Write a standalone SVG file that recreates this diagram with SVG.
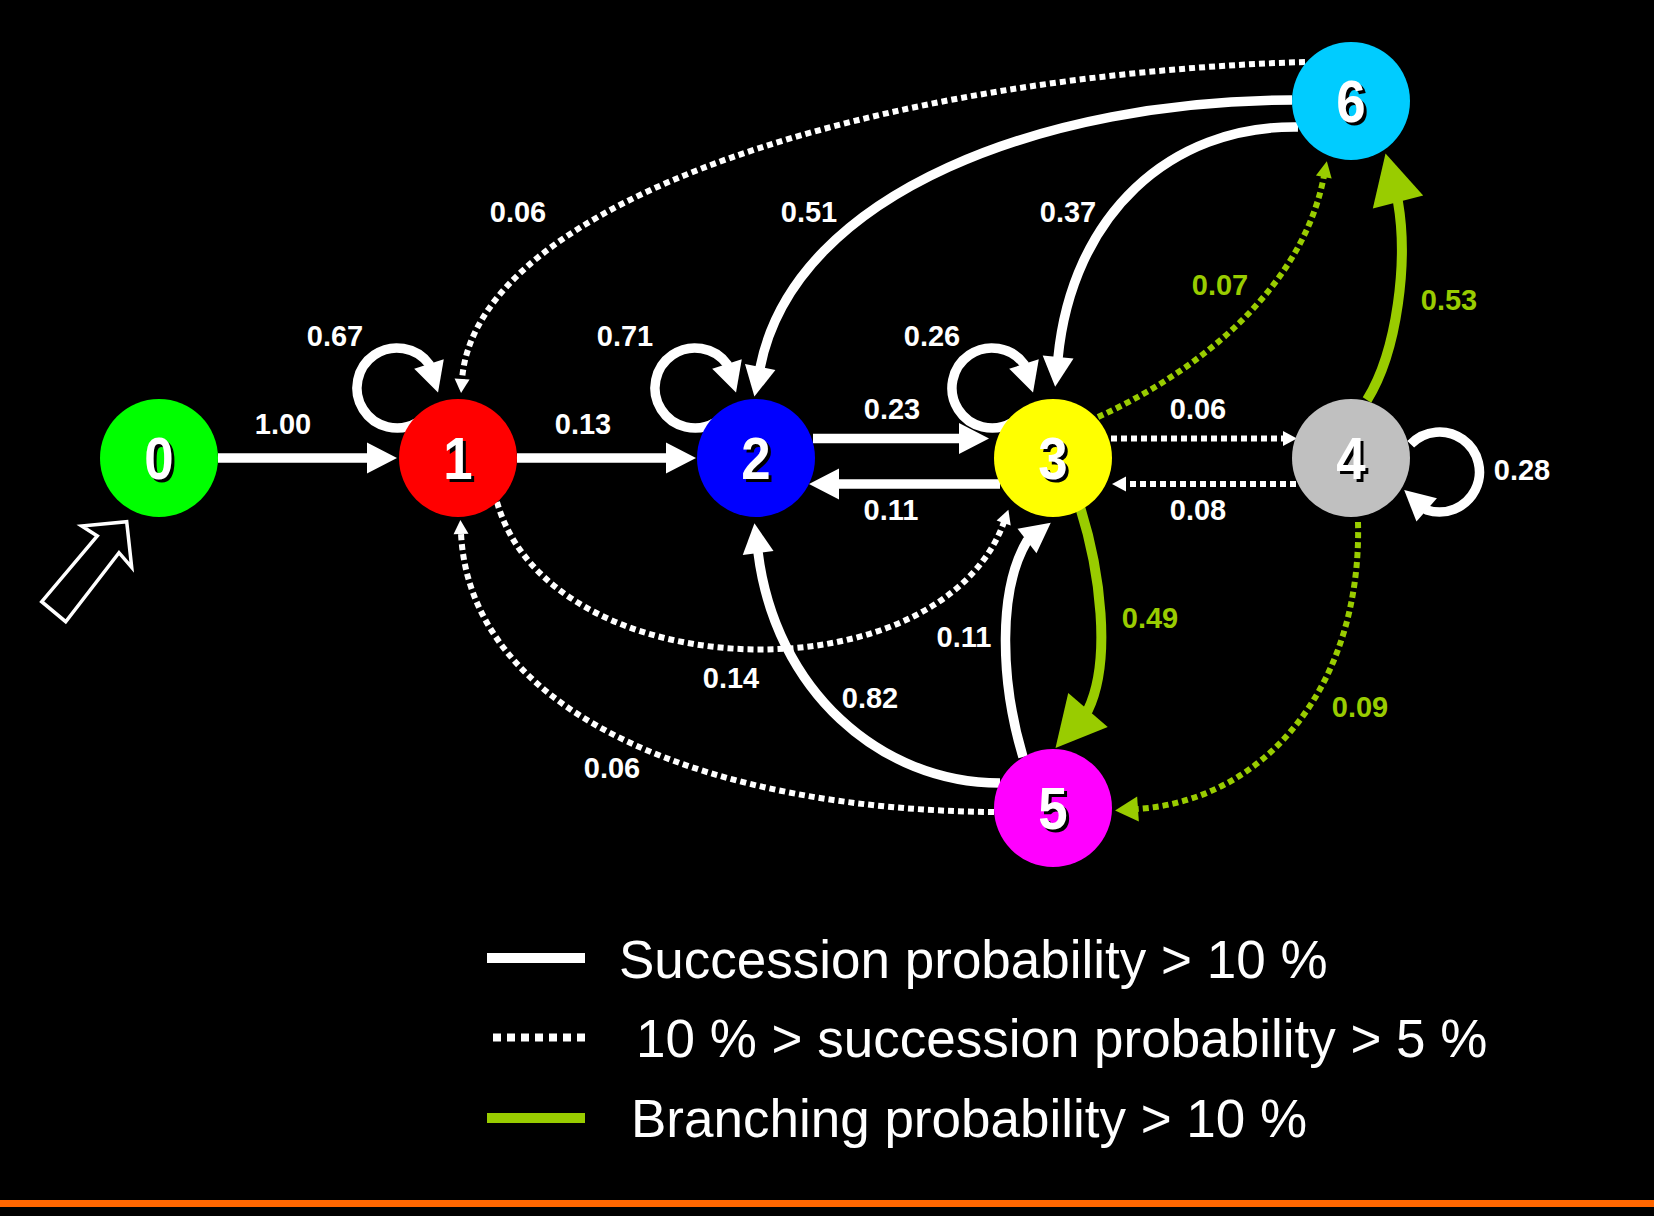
<svg xmlns="http://www.w3.org/2000/svg" width="1654" height="1216" viewBox="0 0 1654 1216">
<defs>
<style>
.w{stroke:#fff;stroke-width:9.5;fill:none}
.d{stroke:#fff;stroke-width:6;fill:none;stroke-dasharray:6 4}
.g{stroke:#99CC00;stroke-width:10;fill:none}
.gd{stroke:#99CC00;stroke-width:6;fill:none;stroke-dasharray:6 4}
.lbl{font-family:"Liberation Sans",Arial,sans-serif;font-weight:bold;font-size:29px;fill:#fff;text-anchor:middle}
.lg{fill:#99CC00}
.nt{font-family:"Liberation Sans",Arial,sans-serif;font-weight:bold;font-size:60px;fill:#fff;text-anchor:middle}
.ns{font-family:"Liberation Sans",Arial,sans-serif;font-weight:bold;font-size:60px;fill:#000;text-anchor:middle}
.leg{font-family:"Liberation Sans",Arial,sans-serif;font-size:53px;fill:#fff}
</style>
<marker id="aw" markerUnits="userSpaceOnUse" markerWidth="40" markerHeight="40" refX="1" refY="0" orient="auto" overflow="visible"><path d="M0,-15.5 L30,0 L0,15.5 z" fill="#fff"/></marker>
<marker id="aws" markerUnits="userSpaceOnUse" markerWidth="20" markerHeight="20" refX="1" refY="0" orient="auto" overflow="visible"><path d="M0,-7.5 L14,0 L0,7.5 z" fill="#fff"/></marker>
<marker id="ag" markerUnits="userSpaceOnUse" markerWidth="60" markerHeight="60" refX="1" refY="0" orient="auto" overflow="visible"><path d="M0,-26 L50,0 L0,26 z" fill="#99CC00"/></marker>
<marker id="ags" markerUnits="userSpaceOnUse" markerWidth="20" markerHeight="20" refX="1" refY="0" orient="auto" overflow="visible"><path d="M0,-8 L16,0 L0,8 z" fill="#99CC00"/></marker>
<marker id="agm" markerUnits="userSpaceOnUse" markerWidth="30" markerHeight="30" refX="1" refY="0" orient="auto" overflow="visible"><path d="M0,-12.5 L23,0 L0,12.5 z" fill="#99CC00"/></marker>
</defs>
<rect x="0" y="0" width="1654" height="1216" fill="#000"/>

<g id="connectors">
<path class="w" d="M218,458 L368,458" marker-end="url(#aw)"/>
<path class="w" d="M517,458 L667,458" marker-end="url(#aw)"/>
<path class="w" d="M813,438.5 L960,438.5" marker-end="url(#aw)"/>
<path class="w" d="M1000,484 L838,484" marker-end="url(#aw)"/>
<path class="d" d="M1111,438.5 L1284,438.5" marker-end="url(#aws)"/>
<path class="d" d="M1296,484 L1125,484" marker-end="url(#aws)"/>
<path class="w" d="M417,422.6 A40,40 0 1 1 429,364 l0.3,0.95" marker-end="url(#aw)"/>
<path class="w" d="M715,422.6 A40,40 0 1 1 727,364 l0.3,0.95" marker-end="url(#aw)"/>
<path class="w" d="M1012,422.6 A40,40 0 1 1 1024,364 l0.3,0.95" marker-end="url(#aw)"/>
<path class="w" d="M1410.7,444.2 A40,40 0 1 1 1426.7,509.9 l-0.75,-0.66" marker-end="url(#aw)"/>
<path class="w" d="M1292,100 C1050,100 795,190 760,368" marker-end="url(#aw)"/>
<path class="w" d="M1298,127 C1170,125 1072,215 1058,358" marker-end="url(#aw)"/>
<path class="w" d="M1000,783 C880,783 775,690 758,552" marker-end="url(#aw)"/>
<path class="w" d="M1023,757 C1000,680 998,590 1027,541 l0.79,-0.61" marker-end="url(#aw)"/>
<path class="g" d="M1080,507 C1100,570 1112,660 1088,710 l-0.65,0.76" marker-end="url(#ag)"/>
<path class="g" d="M1367,400 C1398,350 1408,260 1398,202 l-0.25,-0.97" marker-end="url(#ag)"/>
<path class="gd" d="M1098,417 C1180,380 1300,300 1324,176" marker-end="url(#ags)"/>
<path class="gd" d="M1358,522 C1362,680 1270,800 1137,809" marker-end="url(#agm)"/>
<path class="d" d="M1305,62 C880,75 475,200 462,380" marker-end="url(#aws)"/>
<path class="d" d="M497,502 C550,690 940,700 1004,522" marker-end="url(#aws)"/>
<path class="d" d="M994,812 C720,810 470,720 461,533" marker-end="url(#aws)"/>
<polygon points="126.7,521.7 131.7,567.3 119,552.7 65.7,621.7 41.7,601.7 97.3,536 81.7,526" fill="#000" stroke="#fff" stroke-width="3.5" stroke-linejoin="miter"/>
</g>

<g id="edge-labels">
<text class="lbl" x="283" y="434">1.00</text>
<text class="lbl" x="335" y="346">0.67</text>
<text class="lbl" x="583" y="434">0.13</text>
<text class="lbl" x="625" y="346">0.71</text>
<text class="lbl" x="932" y="346">0.26</text>
<text class="lbl" x="892" y="419">0.23</text>
<text class="lbl" x="891" y="520">0.11</text>
<text class="lbl" x="1198" y="419">0.06</text>
<text class="lbl" x="1198" y="520">0.08</text>
<text class="lbl" x="1522" y="480">0.28</text>
<text class="lbl lg" x="1150" y="628">0.49</text>
<text class="lbl" x="1068" y="222">0.37</text>
<text class="lbl lg" x="1220" y="295">0.07</text>
<text class="lbl lg" x="1449" y="310">0.53</text>
<text class="lbl" x="809" y="222">0.51</text>
<text class="lbl" x="518" y="222">0.06</text>
<text class="lbl" x="731" y="688">0.14</text>
<text class="lbl" x="870" y="708">0.82</text>
<text class="lbl" x="964" y="647">0.11</text>
<text class="lbl" x="612" y="778">0.06</text>
<text class="lbl lg" x="1360" y="717">0.09</text>
</g>

<g id="node0" transform="translate(159,458)"><circle r="59" fill="#00FF00"/><text class="ns" transform="translate(3,24) scale(0.88,1)">0</text><text class="nt" transform="translate(0,21) scale(0.88,1)">0</text></g>
<g id="node1" transform="translate(458,458)"><circle r="59" fill="#FF0000"/><text class="ns" transform="translate(3,24) scale(0.88,1)">1</text><text class="nt" transform="translate(0,21) scale(0.88,1)">1</text></g>
<g id="node2" transform="translate(756,458)"><circle r="59" fill="#0000FF"/><text class="ns" transform="translate(3,24) scale(0.88,1)">2</text><text class="nt" transform="translate(0,21) scale(0.88,1)">2</text></g>
<g id="node3" transform="translate(1053,458)"><circle r="59" fill="#FFFF00"/><text class="ns" transform="translate(3,24) scale(0.88,1)">3</text><text class="nt" transform="translate(0,21) scale(0.88,1)">3</text></g>
<g id="node4" transform="translate(1351,458)"><circle r="59" fill="#C0C0C0"/><text class="ns" transform="translate(3,24) scale(0.88,1)">4</text><text class="nt" transform="translate(0,21) scale(0.88,1)">4</text></g>
<g id="node5" transform="translate(1053,808)"><circle r="59" fill="#FF00FF"/><text class="ns" transform="translate(3,24) scale(0.88,1)">5</text><text class="nt" transform="translate(0,21) scale(0.88,1)">5</text></g>
<g id="node6" transform="translate(1351,101)"><circle r="59" fill="#00CCFF"/><text class="ns" transform="translate(3,24) scale(0.88,1)">6</text><text class="nt" transform="translate(0,21) scale(0.88,1)">6</text></g>

<g id="legend">
<rect x="487" y="953" width="98" height="10" fill="#fff"/>
<text class="leg" x="619" y="978">Succession probability &gt; 10 %</text>
<line x1="493" y1="1037.5" x2="591" y2="1037.5" stroke="#fff" stroke-width="8" stroke-dasharray="8 6"/>
<text class="leg" x="636" y="1057">10 % &gt; succession probability &gt; 5 %</text>
<rect x="487" y="1113" width="98" height="10" fill="#99CC00"/>
<text class="leg" x="631" y="1137">Branching probability &gt; 10 %</text>
</g>
<rect x="0" y="1200" width="1654" height="7" fill="#FF6600"/>
</svg>
